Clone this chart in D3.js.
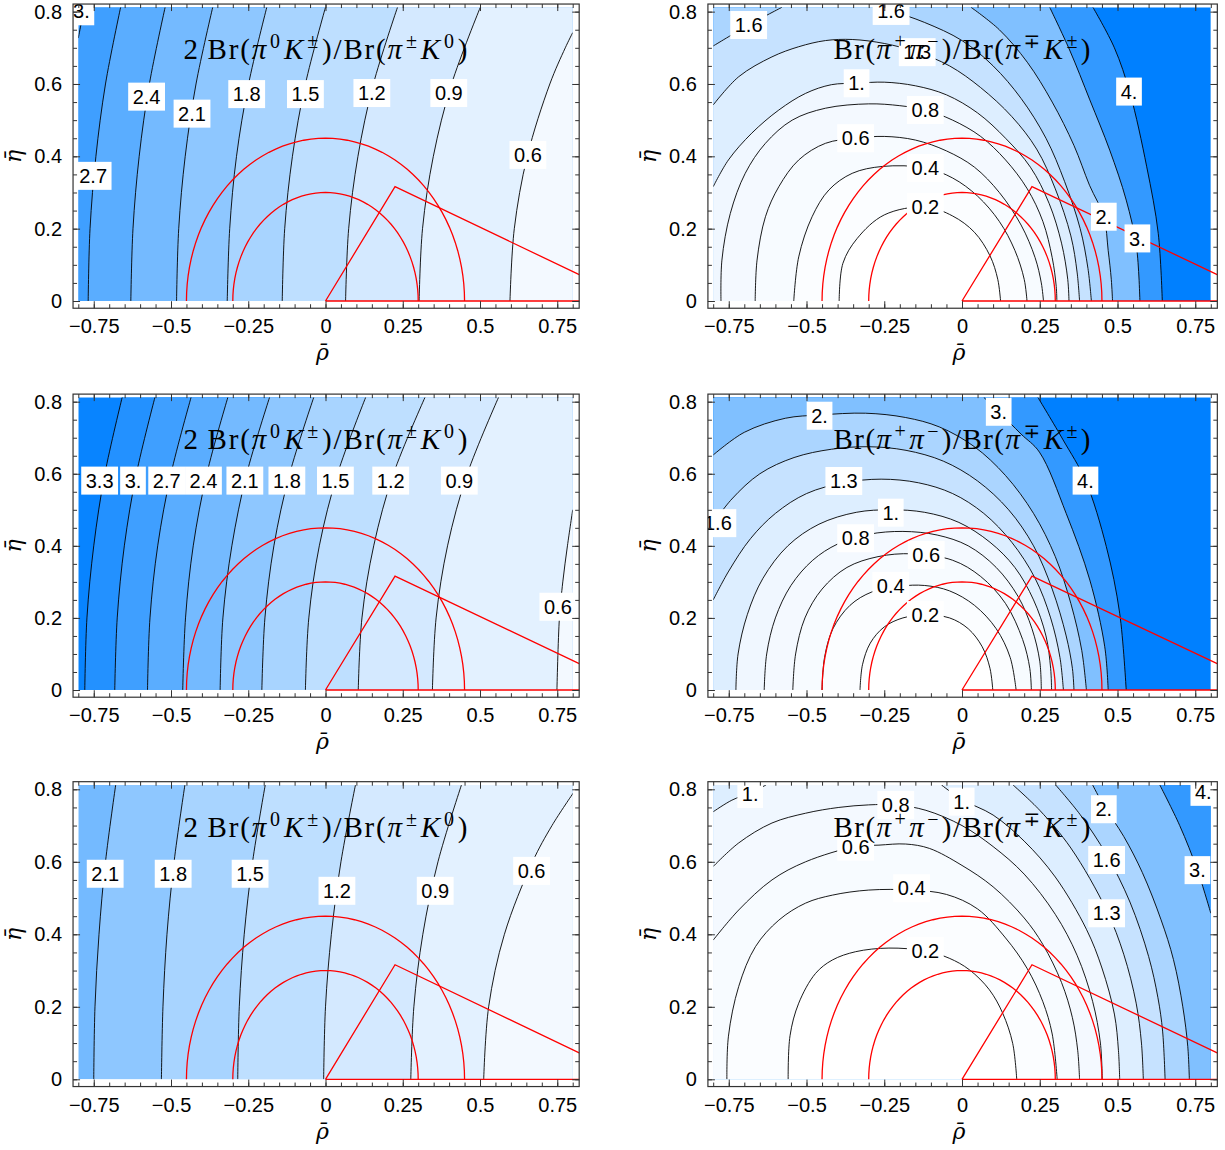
<!DOCTYPE html>
<html>
<head>
<meta charset="utf-8">
<script src="https://cdn.jsdelivr.net/npm/d3@7"></script>
<style>
  body { margin: 0; background: #fff; }
  svg text { font-family: "Liberation Sans", Arial, sans-serif; }
</style>
</head>
<body>
<svg id="chart" width="1225" height="1150"></svg>
<script>
// ticks shared by all panels
const xTicks = [-0.75, -0.5, -0.25, 0, 0.25, 0.5, 0.75];
const yTicks = [0, 0.2, 0.4, 0.6, 0.8];

// red overlay: two half circles and the triangle (rho, eta)
const circleRadii = [0.3, 0.45];
const triangle = [[0, 0], [0.225, 0.316], [1, 0], [0, 0]];

// contour lines: [level, [piece, ...]], piece = [[rho, eta], ...]
const tlLines = [
  [0.6, [[[0.597, 0], [0.611, 0.2], [0.653, 0.4], [0.726, 0.6], [0.776, 0.7], [0.8, 0.742]]]],
  [0.9, [[[0.303, 0], [0.314, 0.2], [0.349, 0.4], [0.408, 0.6], [0.501, 0.812]]]],
  [1.2, [[[0.065, 0], [0.075, 0.2], [0.105, 0.4], [0.155, 0.6], [0.233, 0.812]]]],
  [1.5, [[[-0.14, 0], [-0.132, 0.2], [-0.107, 0.4], [-0.065, 0.6], [0.0, 0.812]]]],
  [1.8, [[[-0.318, 0], [-0.31, 0.2], [-0.288, 0.4], [-0.249, 0.6], [-0.19, 0.812]]]],
  [2.1, [[[-0.482, 0], [-0.475, 0.2], [-0.454, 0.4], [-0.419, 0.6], [-0.365, 0.812]]]],
  [2.4, [[[-0.63, 0], [-0.623, 0.2], [-0.603, 0.4], [-0.57, 0.6], [-0.519, 0.812]]]],
  [2.7, [[[-0.768, 0], [-0.762, 0.2], [-0.743, 0.4], [-0.712, 0.6], [-0.663, 0.812]]]],
  [3, [[[-0.8, 0.727], [-0.79, 0.77], [-0.78, 0.812]]]]
];
const tlLabels = [[3, -0.79, 0.801], [2.7, -0.752, 0.346], [2.4, -0.579, 0.565], [2.1, -0.432, 0.518],
  [1.8, -0.255, 0.572], [1.5, -0.065, 0.572], [1.2, 0.15, 0.575], [0.9, 0.399, 0.575], [0.6, 0.655, 0.404]];

const trLines = [
  [0.2, [[[-0.395, 0], [-0.383, 0.104], [-0.337, 0.173], [-0.25, 0.238], [-0.118, 0.26], [-0.03, 0.235],
    [0.04, 0.19], [0.09, 0.125], [0.115, 0.06], [0.124, 0]]]],
  [0.4, [[[-0.541, 0], [-0.525, 0.122], [-0.482, 0.233], [-0.428, 0.307], [-0.353, 0.353], [-0.256, 0.372],
    [-0.118, 0.368], [-0.03, 0.34], [0.05, 0.29], [0.12, 0.22], [0.17, 0.14], [0.2, 0.06], [0.209, 0]]]],
  [0.6, [[[-0.665, 0], [-0.659, 0.113], [-0.632, 0.233], [-0.589, 0.316], [-0.525, 0.39], [-0.439, 0.436],
    [-0.342, 0.45], [-0.25, 0.455], [-0.15, 0.445], [-0.05, 0.415], [0.04, 0.37], [0.12, 0.3], [0.19, 0.21],
    [0.235, 0.12], [0.255, 0.05], [0.262, 0]]]],
  [0.8, [[[-0.775, 0], [-0.772, 0.113], [-0.745, 0.242], [-0.697, 0.353], [-0.632, 0.436], [-0.546, 0.5],
    [-0.439, 0.533], [-0.3, 0.545], [-0.2, 0.54], [-0.118, 0.528], [-0.03, 0.5], [0.06, 0.455], [0.14, 0.39],
    [0.21, 0.31], [0.26, 0.22], [0.29, 0.12], [0.303, 0.04], [0.305, 0]]]],
  [1, [[[-0.8, 0.316], [-0.751, 0.39], [-0.676, 0.464], [-0.589, 0.528], [-0.503, 0.574], [-0.42, 0.598],
    [-0.339, 0.602], [-0.25, 0.605], [-0.15, 0.595], [-0.05, 0.57], [0.05, 0.52], [0.14, 0.45], [0.22, 0.37],
    [0.28, 0.27], [0.32, 0.16], [0.34, 0.06], [0.344, 0]]]],
  [1.3, [[[-0.8, 0.542], [-0.718, 0.62], [-0.611, 0.675], [-0.525, 0.703], [-0.439, 0.72], [-0.353, 0.723],
    [-0.25, 0.712], [-0.144, 0.688], [-0.04, 0.65], [0.06, 0.59], [0.16, 0.51], [0.24, 0.42], [0.3, 0.31],
    [0.35, 0.18], [0.37, 0.08], [0.378, 0]]]],
  [1.6, [[[-0.8, 0.705], [-0.686, 0.763], [-0.579, 0.812]],
    [[-0.28, 0.812], [-0.228, 0.802], [-0.12, 0.77], [0.0, 0.72], [0.1, 0.65], [0.19, 0.56], [0.27, 0.45],
    [0.33, 0.33], [0.38, 0.2], [0.405, 0.09], [0.416, 0]]]],
  [2, [[[0.029, 0.812], [0.12, 0.75], [0.21, 0.66], [0.29, 0.55], [0.36, 0.43], [0.41, 0.32], [0.456, 0.233],
    [0.47, 0.14], [0.48, 0.06], [0.484, 0]]]],
  [3, [[[0.282, 0.812], [0.346, 0.694], [0.411, 0.556], [0.475, 0.417], [0.528, 0.279], [0.561, 0.15], [0.572, 0]]]],
  [4, [[[0.421, 0.812], [0.49, 0.7], [0.54, 0.575], [0.594, 0.371], [0.631, 0.187], [0.644, 0]]]]
];
const trLabels = [[1.6, -0.686, 0.763], [1.6, -0.228, 0.802], [1.3, -0.144, 0.688], [1, -0.339, 0.602],
  [0.8, -0.118, 0.528], [0.6, -0.342, 0.45], [0.4, -0.118, 0.368], [0.2, -0.118, 0.26],
  [2, 0.456, 0.233], [3, 0.564, 0.173], [4, 0.537, 0.579]];

const mlLines = [
  [0.6, [[[0.749, 0], [0.757, 0.2], [0.768, 0.3], [0.783, 0.4], [0.8, 0.5]]]],
  [0.9, [[[0.346, 0], [0.358, 0.2], [0.395, 0.4], [0.459, 0.6], [0.56, 0.812]]]],
  [1.2, [[[0.106, 0], [0.118, 0.2], [0.156, 0.4], [0.22, 0.6], [0.322, 0.812]]]],
  [1.5, [[[-0.065, 0], [-0.054, 0.2], [-0.02, 0.4], [0.039, 0.6], [0.13, 0.812]]]],
  [1.8, [[[-0.206, 0], [-0.196, 0.2], [-0.167, 0.4], [-0.116, 0.6], [-0.038, 0.812]]]],
  [2.1, [[[-0.341, 0], [-0.332, 0.2], [-0.303, 0.4], [-0.255, 0.6], [-0.181, 0.812]]]],
  [2.4, [[[-0.462, 0], [-0.453, 0.2], [-0.428, 0.4], [-0.384, 0.6], [-0.316, 0.812]]]],
  [2.7, [[[-0.576, 0], [-0.568, 0.2], [-0.543, 0.4], [-0.5, 0.6], [-0.435, 0.812]]]],
  [3, [[[-0.682, 0], [-0.674, 0.2], [-0.651, 0.4], [-0.612, 0.6], [-0.552, 0.812]]]],
  [3.3, [[[-0.779, 0], [-0.772, 0.2], [-0.75, 0.4], [-0.714, 0.6], [-0.658, 0.812]]]]
];
const mlLabels = [[3.3, -0.731, 0.581], [3, -0.623, 0.581], [2.7, -0.514, 0.581], [2.4, -0.395, 0.581],
  [2.1, -0.261, 0.581], [1.8, -0.125, 0.581], [1.5, 0.032, 0.581], [1.2, 0.211, 0.581], [0.9, 0.433, 0.581],
  [0.6, 0.752, 0.231]];

const mrLines = [
  [0.2, [[[-0.328, 0], [-0.32, 0.07], [-0.295, 0.13], [-0.25, 0.175], [-0.19, 0.2], [-0.118, 0.208],
    [-0.04, 0.2], [0.02, 0.17], [0.065, 0.12], [0.09, 0.06], [0.099, 0]]]],
  [0.4, [[[-0.45, 0], [-0.442, 0.09], [-0.415, 0.17], [-0.36, 0.235], [-0.29, 0.272], [-0.2, 0.288],
    [-0.12, 0.29], [-0.04, 0.275], [0.04, 0.235], [0.11, 0.17], [0.155, 0.09], [0.174, 0]]]],
  [0.6, [[[-0.544, 0], [-0.535, 0.1], [-0.505, 0.2], [-0.45, 0.28], [-0.37, 0.34], [-0.27, 0.37],
    [-0.16, 0.378], [-0.03, 0.36], [0.06, 0.315], [0.14, 0.24], [0.195, 0.14], [0.218, 0.06], [0.223, 0]]]],
  [0.8, [[[-0.636, 0], [-0.628, 0.1], [-0.6, 0.2], [-0.55, 0.29], [-0.48, 0.36], [-0.4, 0.405],
    [-0.3, 0.432], [-0.19, 0.44], [-0.08, 0.43], [0.02, 0.4], [0.11, 0.34], [0.18, 0.26], [0.225, 0.17],
    [0.25, 0.08], [0.255, 0]]]],
  [1, [[[-0.727, 0], [-0.72, 0.1], [-0.69, 0.21], [-0.64, 0.31], [-0.56, 0.4], [-0.46, 0.46],
    [-0.34, 0.493], [-0.229, 0.5], [-0.12, 0.493], [-0.01, 0.465], [0.09, 0.41], [0.17, 0.34], [0.23, 0.25],
    [0.27, 0.15], [0.285, 0.06], [0.288, 0]]]],
  [1.3, [[[-0.8, 0.25], [-0.75, 0.33], [-0.68, 0.42], [-0.6, 0.49], [-0.5, 0.545], [-0.38, 0.575],
    [-0.26, 0.585], [-0.14, 0.575], [-0.03, 0.545], [0.07, 0.49], [0.16, 0.41], [0.235, 0.31], [0.285, 0.2],
    [0.315, 0.09], [0.326, 0]]]],
  [1.6, [[[-0.8, 0.463], [-0.74, 0.53], [-0.65, 0.6], [-0.54, 0.645], [-0.42, 0.668], [-0.3, 0.675],
    [-0.18, 0.665], [-0.06, 0.635], [0.05, 0.58], [0.15, 0.5], [0.23, 0.4], [0.29, 0.28], [0.335, 0.15],
    [0.355, 0.06], [0.36, 0]]]],
  [2, [[[-0.8, 0.652], [-0.7, 0.715], [-0.568, 0.754], [-0.458, 0.763], [-0.31, 0.768], [-0.181, 0.756],
    [-0.073, 0.73], [0.04, 0.675], [0.14, 0.595], [0.23, 0.49], [0.3, 0.37], [0.35, 0.24], [0.385, 0.11],
    [0.4, 0]]]],
  [3, [[[0.07, 0.812], [0.118, 0.772], [0.19, 0.71], [0.249, 0.66], [0.335, 0.49], [0.411, 0.305],
    [0.459, 0.12], [0.47, 0]]]],
  [4, [[[0.244, 0.812], [0.325, 0.694], [0.397, 0.581], [0.464, 0.398], [0.507, 0.213], [0.528, 0]]]]
];
const mrLabels = [[2, -0.458, 0.761], [3, 0.118, 0.772], [1.6, -0.785, 0.463], [1.3, -0.38, 0.58],
  [1, -0.229, 0.492], [0.8, -0.342, 0.421], [0.6, -0.115, 0.375], [0.4, -0.229, 0.289],
  [0.2, -0.118, 0.208], [4, 0.397, 0.581]];

const blLines = [
  [0.6, [[[0.512, 0], [0.528, 0.2], [0.579, 0.4], [0.67, 0.6], [0.733, 0.7], [0.802, 0.79]]]],
  [0.9, [[[0.276, 0], [0.286, 0.2], [0.315, 0.4], [0.364, 0.6], [0.44, 0.812]]]],
  [1.2, [[[-0.006, 0], [0.0, 0.2], [0.019, 0.4], [0.05, 0.6], [0.097, 0.812]]]],
  [1.5, [[[-0.284, 0], [-0.279, 0.2], [-0.263, 0.4], [-0.236, 0.6], [-0.195, 0.812]]]],
  [1.8, [[[-0.531, 0], [-0.526, 0.2], [-0.513, 0.4], [-0.49, 0.6], [-0.455, 0.812]]]],
  [2.1, [[[-0.75, 0], [-0.746, 0.2], [-0.733, 0.4], [-0.712, 0.6], [-0.679, 0.812]]]]
];
const blLabels = [[2.1, -0.713, 0.567], [1.8, -0.493, 0.567], [1.5, -0.244, 0.567], [1.2, 0.037, 0.52],
  [0.9, 0.355, 0.52], [0.6, 0.667, 0.575]];

const brLines = [
  [0.2, [[[-0.559, 0], [-0.553, 0.12], [-0.525, 0.21], [-0.471, 0.292], [-0.417, 0.329], [-0.342, 0.352],
    [-0.235, 0.362], [-0.118, 0.354], [-0.041, 0.334], [0.024, 0.302], [0.088, 0.247], [0.131, 0.182],
    [0.163, 0.099], [0.176, 0]]]],
  [0.4, [[[-0.756, 0], [-0.751, 0.119], [-0.718, 0.256], [-0.664, 0.366], [-0.589, 0.439], [-0.503, 0.486],
    [-0.417, 0.508], [-0.3, 0.522], [-0.162, 0.522], [-0.05, 0.51], [0.05, 0.47], [0.14, 0.39], [0.21, 0.305],
    [0.26, 0.214], [0.29, 0.125], [0.306, 0]]]],
  [0.6, [[[-0.8, 0.384], [-0.718, 0.467], [-0.611, 0.55], [-0.503, 0.6], [-0.342, 0.642], [-0.267, 0.646],
    [-0.181, 0.649], [-0.105, 0.637], [0.0, 0.59], [0.1, 0.531], [0.2, 0.445], [0.26, 0.372], [0.32, 0.267],
    [0.355, 0.17], [0.372, 0.08], [0.378, 0]]]],
  [0.8, [[[-0.8, 0.587], [-0.718, 0.652], [-0.611, 0.707], [-0.503, 0.734], [-0.396, 0.75], [-0.3, 0.757],
    [-0.213, 0.757], [-0.116, 0.742], [0.0, 0.7], [0.1, 0.642], [0.2, 0.566], [0.3, 0.455], [0.37, 0.342],
    [0.42, 0.215], [0.445, 0.1], [0.451, 0]]]],
  [1, [[[-0.8, 0.738], [-0.74, 0.77], [-0.681, 0.79], [-0.63, 0.812]],
    [[-0.066, 0.812], [-0.001, 0.772], [0.1, 0.729], [0.2, 0.657], [0.3, 0.558], [0.4, 0.414], [0.45, 0.307],
    [0.49, 0.18], [0.503, 0.08], [0.507, 0]]]],
  [1.3, [[[0.164, 0.812], [0.25, 0.742], [0.35, 0.638], [0.465, 0.466], [0.52, 0.345], [0.56, 0.21],
    [0.577, 0.1], [0.583, 0]]]],
  [1.6, [[[0.301, 0.812], [0.38, 0.73], [0.465, 0.619], [0.54, 0.489], [0.6, 0.339], [0.63, 0.225],
    [0.645, 0.133], [0.653, 0]]]],
  [2, [[[0.42, 0.812], [0.456, 0.755], [0.52, 0.67], [0.58, 0.57], [0.64, 0.44], [0.68, 0.33], [0.71, 0.2],
    [0.726, 0.09], [0.731, 0]]]],
  [3, [[[0.636, 0.812], [0.7, 0.7], [0.757, 0.577], [0.8, 0.458]]]],
  [4, [[[0.77, 0.812], [0.8, 0.78]]]]
];
const brLabels = [[1, -0.681, 0.787], [0.8, -0.213, 0.757], [0.6, -0.342, 0.642], [0.4, -0.162, 0.527],
  [0.2, -0.118, 0.354], [1, -0.001, 0.766], [2, 0.456, 0.745], [1.6, 0.465, 0.605], [1.3, 0.465, 0.458],
  [3, 0.757, 0.577], [4, 0.776, 0.793]];

// panel titles as [text, kind]: n = upright, i = italic, s = superscript
const leftTitle = [["2\u2009Br(", "n"], ["\u03c0", "i"], ["0", "s"], ["K", "i"], ["\u00b1", "s"],
  [")/Br(", "n"], ["\u03c0", "i"], ["\u00b1", "s"], ["K", "i"], ["0", "s"], [")", "n"]];
const rightTitle = [["Br(", "n"], ["\u03c0", "i"], ["+", "s"], ["\u03c0", "i"], ["\u2212", "s"],
  [")/Br(", "n"], ["\u03c0", "i"], ["\u2213", "s"], ["K", "i"], ["\u00b1", "s"], [")", "n"]];

// ---------------------------------------------------------------------------
const svg = d3.select("#chart");
const colX0 = [325.5, 962], colUnit = [309, 311];
const rowY0 = [301, 690, 1079.3], rowUnit = [361.7, 360.4, 362.5];
const titleWidth = [284, 257];

const X0 = -0.8, X1 = 0.8, Y0 = 0, Y1 = 0.812;
// a band is shaded by the value half way between its two contour levels
const shadeLeft = d3.scaleLinear().domain([0.45, 1.05, 1.65, 2.55, 3.45]).range([0.047, 0.17, 0.34, 0.647, 0.97]).clamp(true);
const shadeRight = d3.scaleLinear().domain([0.1, 0.9, 1.8, 2.5, 3.5, 4.5]).range([0, 0.06, 0.33, 0.5, 0.8, 1]).clamp(true);
const blues = d3.interpolateRgb("#ffffff", "#0080ff");
const fmtLevel = v => Number.isInteger(v) ? v + "." : String(v);
const tickFmt = d3.format("");

const panels = [
  { col: 0, row: 0, lines: tlLines, labels: tlLabels, title: leftTitle },
  { col: 1, row: 0, lines: trLines, labels: trLabels, title: rightTitle },
  { col: 0, row: 1, lines: mlLines, labels: mlLabels, title: leftTitle },
  { col: 1, row: 1, lines: mrLines, labels: mrLabels, title: rightTitle },
  { col: 0, row: 2, lines: blLines, labels: blLabels, title: leftTitle },
  { col: 1, row: 2, lines: brLines, labels: brLabels, title: rightTitle }
];

// position of a boundary point along the fill rectangle, counter-clockwise from bottom-left
function perim([x, y]) {
  const dB = Math.abs(y - Y0), dR = Math.abs(x - X1), dT = Math.abs(y - Y1), dL = Math.abs(x - X0);
  const m = Math.min(dB, dR, dT, dL);
  if (m === dB) return (x - X0) / (X1 - X0);
  if (m === dR) return 1 + (y - Y0) / (Y1 - Y0);
  if (m === dT) return 2 + (X1 - x) / (X1 - X0);
  return 3 + (Y1 - y) / (Y1 - Y0);
}
const corners = [[X0, Y0], [X1, Y0], [X1, Y1], [X0, Y1]];
// corners needed to close the lower-valued side (right of travel direction)
function closing(pts) {
  const tS = perim(pts[0]);
  let tE = perim(pts[pts.length - 1]);
  if (tE <= tS) tE += 4;
  const out = [];
  for (let c = Math.floor(tE); c > tS; c--) out.push(corners[c % 4]);
  return out;
}

svg.append("rect").attr("width", 1225).attr("height", 1150).attr("fill", "#fff");
const defs = svg.append("defs");

panels.forEach((p, pi) => {
  const sx = d3.scaleLinear().domain([0, 1]).range([colX0[p.col], colX0[p.col] + colUnit[p.col]]);
  const sy = d3.scaleLinear().domain([0, 1]).range([rowY0[p.row], rowY0[p.row] - rowUnit[p.row]]);
  const fl = sx(-0.817), fr = sx(0.821), ft = sy(0.821), fb = sy(-0.02);
  const g = svg.append("g");
  const shadeT = p.col === 0 ? shadeLeft : shadeRight;
  const shade = v => blues(shadeT(v));

  defs.append("clipPath").attr("id", "fill" + pi).append("rect")
    .attr("x", sx(X0)).attr("y", sy(Y1)).attr("width", sx(X1) - sx(X0)).attr("height", sy(Y0) - sy(Y1));
  defs.append("clipPath").attr("id", "frame" + pi).append("rect")
    .attr("x", fl).attr("y", ft).attr("width", fr - fl).attr("height", fb - ft);

  const curve = d3.line().x(d => sx(d[0])).y(d => sy(d[1])).curve(d3.curveCatmullRom.alpha(0.5));
  const lines = p.lines.slice().sort((a, b) => a[0] - b[0]);
  const lev = lines.map(d => d[0]);
  const n = lev.length;
  const bandValue = i => i <= 0 ? lev[0] - (lev[1] - lev[0]) / 2
    : i >= n ? lev[n - 1] + (lev[n - 1] - lev[n - 2]) / 2
    : (lev[i - 1] + lev[i]) / 2;

  // filled bands: paint the highest band, then each lower side on top
  const bands = g.append("g").attr("clip-path", `url(#fill${pi})`);
  bands.append("rect").attr("x", sx(X0)).attr("y", sy(Y1))
    .attr("width", sx(X1) - sx(X0)).attr("height", sy(Y0) - sy(Y1))
    .attr("fill", shade(bandValue(n)));
  for (let i = n - 1; i >= 0; i--) {
    const pieces = lines[i][1];
    let d = "";
    pieces.forEach((pc, k) => { const s = curve(pc); d += k === 0 ? s : "L" + s.slice(1); });
    closing(pieces.flat()).forEach(c => { d += `L${sx(c[0])},${sy(c[1])}`; });
    bands.append("path").attr("d", d + "Z").attr("fill", shade(bandValue(i)));
  }

  // contour lines
  const lg = g.append("g").attr("clip-path", `url(#fill${pi})`);
  lines.forEach(([, pieces]) => pieces.forEach(pc => {
    lg.append("path").attr("d", curve(pc)).attr("fill", "none")
      .attr("stroke", "#000").attr("stroke-width", 0.9);
  }));

  // red circles and triangle
  const rg = g.append("g").attr("clip-path", `url(#frame${pi})`)
    .attr("fill", "none").attr("stroke", "#f00").attr("stroke-width", 1.3);
  const arc = d3.line().x(d => sx(d[0])).y(d => sy(d[1]));
  circleRadii.forEach(r => {
    const pts = d3.range(0, 181, 3).map(a => [r * Math.cos(a * Math.PI / 180), r * Math.sin(a * Math.PI / 180)]);
    rg.append("path").attr("d", arc(pts));
  });
  rg.append("path").attr("d", arc(triangle));

  // contour labels
  const lab = g.append("g").attr("clip-path", `url(#frame${pi})`);
  p.labels.forEach(([v, x, y]) => {
    const t = lab.append("text").attr("x", sx(x)).attr("y", sy(y)).attr("dy", "0.36em")
      .attr("text-anchor", "middle").style("font-size", "20px").attr("fill", "#000").text(fmtLevel(v));
    const b = t.node().getBBox();
    lab.insert("rect", () => t.node())
      .attr("x", sx(x) - (b.width + 9) / 2).attr("y", sy(y) - 14)
      .attr("width", b.width + 9).attr("height", 28).attr("fill", "#fff");
  });

  // title
  const tt = g.append("text").attr("x", sx(0)).attr("y", sy(0.668)).attr("text-anchor", "middle")
    .attr("textLength", titleWidth[p.col]).attr("lengthAdjust", "spacing")
    .style("font-family", "'Liberation Serif', 'DejaVu Serif', serif").style("font-size", "29px");
  let up = false;
  p.title.forEach(([s, kind]) => {
    const ts = tt.append("tspan").text(s);
    if (kind === "i") ts.style("font-style", "italic");
    if (kind === "s") {
      ts.style("font-size", "20px");
      if (!up) { ts.attr("dy", -11).attr("dx", 2); up = true; }
    } else if (up) { ts.attr("dy", 11).attr("dx", 2); up = false; }
  });

  // frame and ticks
  const axisStyle = sel => {
    sel.select(".domain").remove();
    sel.selectAll("line").attr("stroke", "#333");
    sel.selectAll("text").style("font-size", "20px").style("font-family", "'Liberation Sans', Arial, sans-serif")
      .attr("fill", "#000");
  };
  const minorX = d3.range(-16, 17).map(k => k * 0.05);
  const minorY = d3.range(0, 17).map(k => k * 0.05);
  g.append("g").attr("transform", `translate(0,${fb})`)
    .call(d3.axisBottom(sx).tickValues(xTicks).tickSize(-7).tickPadding(11).tickFormat(tickFmt)).call(axisStyle);
  g.append("g").attr("transform", `translate(0,${fb})`)
    .call(d3.axisBottom(sx).tickValues(minorX).tickSize(-4).tickFormat("")).call(axisStyle);
  g.append("g").attr("transform", `translate(0,${ft})`)
    .call(d3.axisTop(sx).tickValues(xTicks).tickSize(-7).tickFormat("")).call(axisStyle);
  g.append("g").attr("transform", `translate(0,${ft})`)
    .call(d3.axisTop(sx).tickValues(minorX).tickSize(-4).tickFormat("")).call(axisStyle);
  g.append("g").attr("transform", `translate(${fl},0)`)
    .call(d3.axisLeft(sy).tickValues(yTicks).tickSize(-7).tickPadding(11).tickFormat(tickFmt)).call(axisStyle);
  g.append("g").attr("transform", `translate(${fl},0)`)
    .call(d3.axisLeft(sy).tickValues(minorY).tickSize(-4).tickFormat("")).call(axisStyle);
  g.append("g").attr("transform", `translate(${fr},0)`)
    .call(d3.axisRight(sy).tickValues(yTicks).tickSize(-7).tickFormat("")).call(axisStyle);
  g.append("g").attr("transform", `translate(${fr},0)`)
    .call(d3.axisRight(sy).tickValues(minorY).tickSize(-4).tickFormat("")).call(axisStyle);
  g.append("rect").attr("x", fl).attr("y", ft).attr("width", fr - fl).attr("height", fb - ft)
    .attr("fill", "none").attr("stroke", "#333").attr("stroke-width", 1.2);

  // axis names
  g.append("text").attr("x", sx(-0.01)).attr("y", fb + 52).attr("text-anchor", "middle")
    .style("font-family", "'DejaVu Serif', serif").style("font-style", "italic").style("font-size", "22px")
    .text("\u03c1\u0304");
  g.append("text").attr("transform", `translate(${fl - 52},${sy(0.4)}) rotate(-90)`).attr("text-anchor", "middle")
    .style("font-family", "'DejaVu Serif', serif").style("font-style", "italic").style("font-size", "22px")
    .text("\u03b7\u0304");
});
</script>
</body>
</html>
